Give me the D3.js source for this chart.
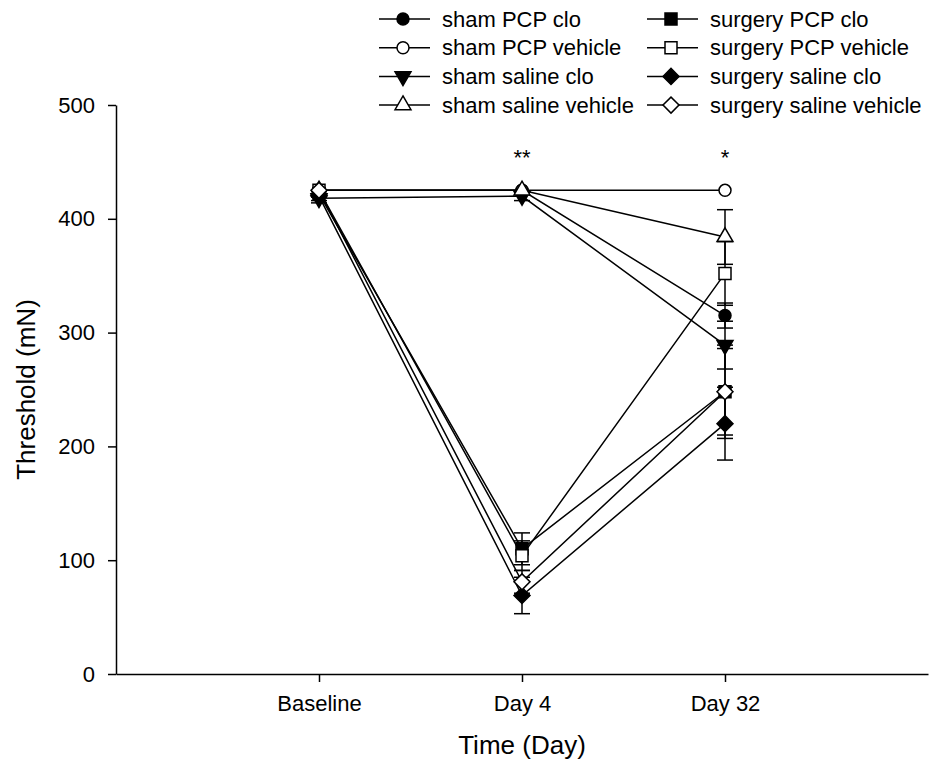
<!DOCTYPE html>
<html>
<head>
<meta charset="utf-8">
<script src="https://cdn.jsdelivr.net/npm/d3@7"></script>
<style>
    body { margin: 0; background: #fff; }
    svg { display: block; font-family: Arial, 'Liberation Sans', sans-serif; }
    .plot__line { fill: none; stroke: #000; stroke-width: 1.5; }
    .plot__err { stroke: #000; stroke-width: 1.5; }
    .plot__axis path, .plot__axis line { stroke: #000; stroke-width: 1.5; }
    .plot__axis text { font-size: 22px; fill: #000; }
</style>
</head>
<body>
<svg id="chart"></svg>
<script>
const categories = ['Baseline', 'Day 4', 'Day 32']
const yTicks = [0, 100, 200, 300, 400, 500]

const seriesNames = [
    'sham PCP clo',
    'sham PCP vehicle',
    'sham saline clo',
    'sham saline vehicle',
    'surgery PCP clo',
    'surgery PCP vehicle',
    'surgery saline clo',
    'surgery saline vehicle',
]

// mean threshold (mN) per time point
const shamPcpClo = [425, 425, 315]
const shamPcpVehicle = [425, 425, 425]
const shamSalineClo = [418, 420, 289]
const shamSalineVehicle = [425, 425, 384]
const surgeryPcpClo = [422, 110, 248]
const surgeryPcpVehicle = [425, 104, 352]
const surgerySalineClo = [420, 69, 220]
const surgerySalineVehicle = [425, 81, 248]

// SEM per time point
const shamPcpCloErr = [0, 0, 11]
const shamPcpVehicleErr = [0, 0, 0]
const shamSalineCloErr = [4, 4, 21]
const shamSalineVehicleErr = [0, 0, 24]
const surgeryPcpCloErr = [3, 14, 38]
const surgeryPcpVehicleErr = [0, 13, 28]
const surgerySalineCloErr = [4, 16, 32]
const surgerySalineVehicleErr = [0, 10, 41]

const significance = [
    { category: 'Day 4', label: '**' },
    { category: 'Day 32', label: '*' },
]

const WIDTH = 930
const HEIGHT = 770
const PADDING = { top: 105, right: 2, bottom: 96, left: 116 }

// marker styles: symbol, filled, rotation
const MARKERS = [
    { type: d3.symbolCircle, size: 113, filled: true, rotate: 0 },
    { type: d3.symbolCircle, size: 113, filled: false, rotate: 0 },
    { type: d3.symbolTriangle, size: 110, filled: true, rotate: 180 },
    { type: d3.symbolTriangle, size: 110, filled: false, rotate: 0 },
    { type: d3.symbolSquare, size: 144, filled: true, rotate: 0 },
    { type: d3.symbolSquare, size: 144, filled: false, rotate: 0 },
    { type: d3.symbolSquare, size: 128, filled: true, rotate: 45 },
    { type: d3.symbolSquare, size: 128, filled: false, rotate: 45 },
]

const means = [shamPcpClo, shamPcpVehicle, shamSalineClo, shamSalineVehicle,
    surgeryPcpClo, surgeryPcpVehicle, surgerySalineClo, surgerySalineVehicle]
const errors = [shamPcpCloErr, shamPcpVehicleErr, shamSalineCloErr, shamSalineVehicleErr,
    surgeryPcpCloErr, surgeryPcpVehicleErr, surgerySalineCloErr, surgerySalineVehicleErr]

const series = seriesNames.map((name, i) => ({
    name,
    marker: MARKERS[i],
    points: categories.map((c, j) => ({ category: c, value: means[i][j], err: errors[i][j] })),
}))

const svg = d3.select('#chart')
    .attr('width', WIDTH)
    .attr('height', HEIGHT)
    .attr('viewBox', [0, 0, WIDTH, HEIGHT].join(' '))

const xScale = d3.scalePoint()
    .domain(['', ...categories, ' '])
    .range([PADDING.left, WIDTH - PADDING.right])

const yScale = d3.scaleLinear()
    .domain([0, 500])
    .range([HEIGHT - PADDING.bottom, PADDING.top])

const symbolPath = m => d3.symbol().type(m.type).size(m.size)()

// Axes
const xAxis = d3.axisBottom(xScale)
    .tickValues(categories)
    .tickSize(8)
    .tickSizeOuter(0)

svg.append('g')
    .classed('plot__axis plot__axis--x', true)
    .attr('transform', `translate(0,${yScale(0)})`)
    .call(xAxis)
    .call(g => g.selectAll('text').attr('dy', '1.15em').attr('y', 12))

const yAxis = d3.axisLeft(yScale)
    .tickValues(yTicks)
    .tickSize(8)
    .tickSizeOuter(0)

svg.append('g')
    .classed('plot__axis plot__axis--y', true)
    .attr('transform', `translate(${PADDING.left},0)`)
    .call(yAxis)
    .call(g => g.selectAll('text').attr('x', -21))

// Axis titles
svg.append('text')
    .attr('x', (xScale(categories[0]) + xScale(categories[2])) / 2)
    .attr('y', 754)
    .attr('text-anchor', 'middle')
    .style('font-size', '26px')
    .text('Time (Day)')

svg.append('text')
    .attr('transform', `translate(35,${(yScale(0) + yScale(500)) / 2}) rotate(-90)`)
    .attr('text-anchor', 'middle')
    .style('font-size', '26px')
    .text('Threshold (mN)')

// Series: lines, error bars, markers
const line = d3.line()
    .x(d => xScale(d.category))
    .y(d => yScale(d.value))

const CAP = 8

series.forEach(s => {
    const g = svg.append('g').classed('plot__series', true)

    g.append('path')
        .classed('plot__line', true)
        .datum(s.points)
        .attr('d', line)

    const errs = g.selectAll('g.err')
        .data(s.points.filter(p => p.err > 0))
        .join('g')
        .classed('err', true)

    errs.append('line')
        .classed('plot__err', true)
        .attr('x1', d => xScale(d.category))
        .attr('x2', d => xScale(d.category))
        .attr('y1', d => yScale(d.value - d.err))
        .attr('y2', d => yScale(d.value + d.err))

    errs.selectAll('line.cap')
        .data(d => [d.value - d.err, d.value + d.err].map(v => ({ category: d.category, v })))
        .join('line')
        .classed('plot__err cap', true)
        .attr('x1', d => xScale(d.category) - CAP)
        .attr('x2', d => xScale(d.category) + CAP)
        .attr('y1', d => yScale(d.v))
        .attr('y2', d => yScale(d.v))

    g.selectAll('path.marker')
        .data(s.points)
        .join('path')
        .classed('marker', true)
        .attr('d', symbolPath(s.marker))
        .attr('transform', d => `translate(${xScale(d.category)},${yScale(d.value)}) rotate(${s.marker.rotate})`)
        .attr('fill', s.marker.filled ? '#000' : '#fff')
        .attr('stroke', '#000')
        .attr('stroke-width', 1.5)
})

// Significance marks
svg.selectAll('text.sig')
    .data(significance)
    .join('text')
    .classed('sig', true)
    .attr('x', d => xScale(d.category))
    .attr('y', yScale(447))
    .attr('text-anchor', 'middle')
    .style('font-size', '22px')
    .text(d => d.label)

// Legend: two columns of four
const legend = svg.append('g').classed('plot__legend', true)
const LEGEND_X = [379, 647]
const LEGEND_Y = 19
const ROW = 28.7

series.forEach((s, i) => {
    const col = Math.floor(i / 4)
    const row = i % 4
    const item = legend.append('g')
        .attr('transform', `translate(${LEGEND_X[col]},${LEGEND_Y + row * ROW})`)

    item.append('line')
        .attr('x1', 0)
        .attr('x2', 51)
        .attr('stroke', '#000')
        .attr('stroke-width', 1.5)

    item.append('path')
        .attr('d', symbolPath(s.marker))
        .attr('transform', `translate(24,0) rotate(${s.marker.rotate})`)
        .attr('fill', s.marker.filled ? '#000' : '#fff')
        .attr('stroke', '#000')
        .attr('stroke-width', 1.5)

    item.append('text')
        .attr('x', 63)
        .attr('dy', '0.35em')
        .style('font-size', '22px')
        .text(s.name)
})
</script>
</body>
</html>
